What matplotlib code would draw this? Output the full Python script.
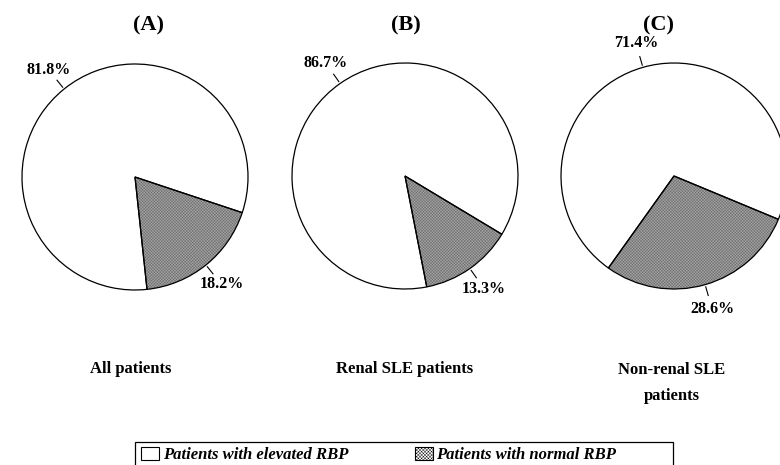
import numpy as np
import matplotlib
matplotlib.use("Agg")
import matplotlib.pyplot as plt
from matplotlib.patches import Patch, Wedge, Rectangle

plt.rcParams['font.family'] = ['Liberation Serif', 'DejaVu Serif']
plt.rcParams['hatch.linewidth'] = 0.3

# data
panels = ["(A)", "(B)", "(C)"]
groups = ["All patients", "Renal SLE patients", "Non-renal SLE\npatients"]
elevated = [81.8, 86.7, 71.4]
normal = [18.2, 13.3, 28.6]
legend_labels = ["Patients with elevated RBP", "Patients with normal RBP"]

# layout (pixels, y measured from bottom)
W, H = 780, 465
centers = [(135, H - 177), (405, H - 176), (674, H - 176)]
R = 113
start_angles = [-83.9, -78.9, -125.5]
title_x = [148, 406, 658]
group_pos = [(131, H - 369), (405, H - 369), (672, H - 383)]
HATCH = "x" * 22
HATCH_COL = "#6a6a6a"

fig = plt.figure(figsize=(7.8, 4.65), dpi=100)
ax = fig.add_axes([0, 0, 1, 1])

for i in range(3):
    vals = [normal[i], elevated[i]]
    cx, cy = centers[i]
    wedges, _ = ax.pie(vals, center=centers[i], radius=R, startangle=start_angles[i],
                       counterclock=True, colors=["white", "white"],
                       wedgeprops=dict(edgecolor="black", linewidth=0.9))
    # hatched slice: grey hatch, black outline drawn on top
    hw = wedges[0]
    hw.set_hatch(HATCH)
    hw.set_edgecolor(HATCH_COL)
    hw.set_linewidth(0)
    ax.add_patch(Wedge((cx, cy), R, hw.theta1, hw.theta2, fill=False,
                       edgecolor="black", linewidth=0.9, zorder=3))
    for w, v in zip(wedges, vals):
        mid = np.deg2rad((w.theta1 + w.theta2) / 2)
        x0, y0 = cx + 1.02 * R * np.cos(mid), cy + 1.02 * R * np.sin(mid)
        x1, y1 = cx + 1.10 * R * np.cos(mid), cy + 1.10 * R * np.sin(mid)
        ax.plot([x0, x1], [y0, y1], color="black", lw=0.8)
        ax.text(cx + 1.22 * R * np.cos(mid), cy + 1.22 * R * np.sin(mid), f"{v}%",
                ha="center", va="center", fontsize=11.5, fontweight="bold")
    ax.text(title_x[i], H - 25, panels[i], ha="center", va="center",
            fontsize=16, fontweight="bold")
    ax.text(group_pos[i][0], group_pos[i][1], groups[i], ha="center", va="center",
            fontsize=12, fontweight="bold", linespacing=1.75)

ax.set_xlim(0, W)
ax.set_ylim(0, H)
ax.set_aspect("equal")
ax.axis("off")

# legend box, cut by the bottom edge as in the source
ax.add_patch(Rectangle((135, H - 475), 538, 33, fill=False, edgecolor="black",
                       linewidth=0.9, clip_on=False))
handles = [Patch(facecolor="white", edgecolor="black", lw=0.8),
           Patch(facecolor="white", edgecolor="black", lw=0.8, hatch="x" * 10)]
fig.legend(handles, legend_labels, ncol=2, loc="upper left",
           bbox_to_anchor=(141 / W, 1 - 447 / H), frameon=False,
           borderpad=0, handlelength=1.1, handleheight=0.8,
           handletextpad=0.2, columnspacing=4.0, borderaxespad=0,
           prop=dict(family="Liberation Serif", style="italic", weight="bold", size=12))

fig.savefig("out.png", dpi=100)
